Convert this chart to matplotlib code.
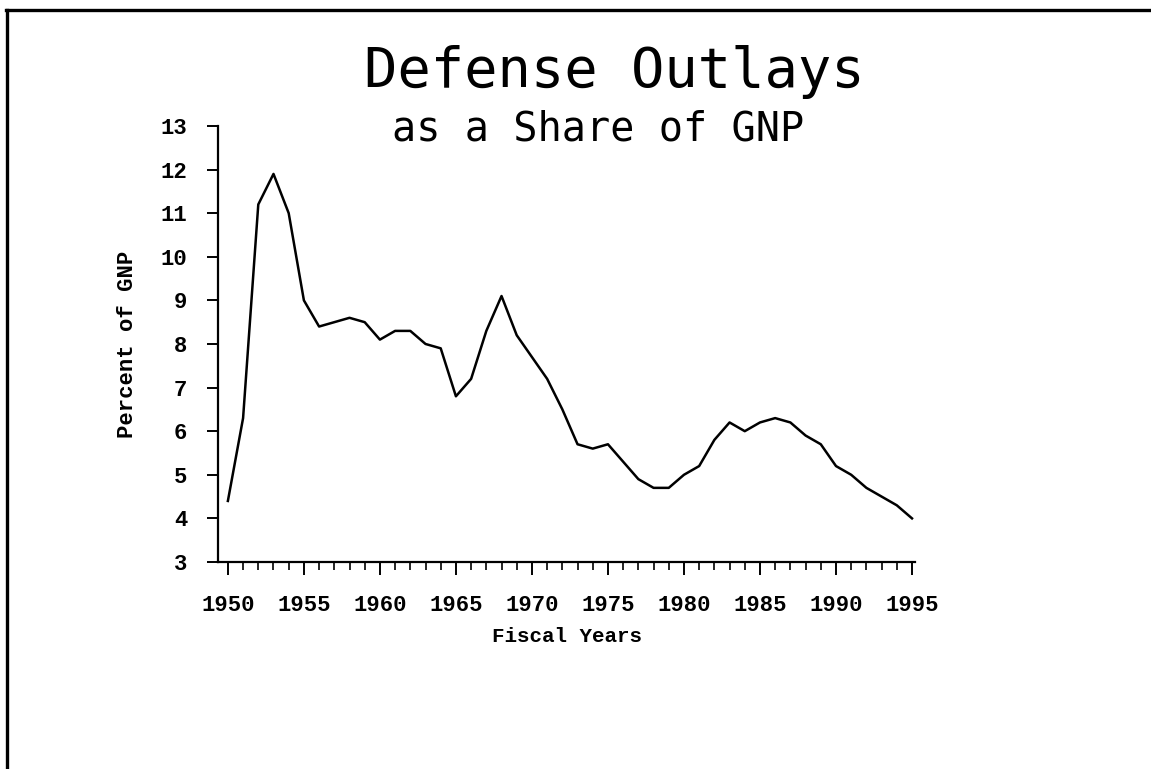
"""
Defense outlays as a share of GNP, fiscal years 1950-1995.
"""

import matplotlib
matplotlib.use("Agg")
import matplotlib.pyplot as plt
from matplotlib.lines import Line2D
from matplotlib.ticker import MultipleLocator

years = list(range(1950, 1996))
pct_gnp = [
    4.4, 6.3, 11.2, 11.9, 11.0, 9.0, 8.4, 8.5, 8.6, 8.5,
    8.1, 8.3, 8.3, 8.0, 7.9, 6.8, 7.2, 8.3, 9.1, 8.2,
    7.7, 7.2, 6.5, 5.7, 5.6, 5.7, 5.3, 4.9, 4.7, 4.7,
    5.0, 5.2, 5.8, 6.2, 6.0, 6.2, 6.3, 6.2, 5.9, 5.7,
    5.2, 5.0, 4.7, 4.5, 4.3, 4.0,
]
year_ticks = list(range(1950, 1996, 5))
pct_ticks = list(range(3, 14))

mono = "DejaVu Sans Mono"
mono_bold = "Liberation Mono"

fig = plt.figure(figsize=(11.51, 7.69), dpi=100)
ax = fig.add_axes([0.1894, 0.2692, 0.6056, 0.567])

ax.plot(years, pct_gnp, color="black", lw=1.8)

ax.set_xlim(1949.35, 1995.2)
ax.set_ylim(3, 13)
ax.set_xticks(year_ticks)
ax.xaxis.set_minor_locator(MultipleLocator(1))
ax.set_yticks(pct_ticks)

for s in ("top", "right"):
    ax.spines[s].set_visible(False)
for s in ("left", "bottom"):
    ax.spines[s].set_linewidth(1.6)

ax.tick_params(axis="x", which="major", length=9, width=1.4, pad=15)
ax.tick_params(axis="x", which="minor", length=6, width=1.2)
ax.tick_params(axis="y", which="major", length=8, width=1.4, pad=14)

for lab in ax.get_xticklabels() + ax.get_yticklabels():
    lab.set_fontfamily(mono_bold)
    lab.set_fontweight("bold")
    lab.set_fontsize(16)

ax.set_xlabel("Fiscal Years", fontfamily=mono_bold, fontweight="bold",
              fontsize=15, labelpad=8)
ax.set_ylabel("Percent of GNP", fontfamily=mono_bold, fontweight="bold",
              fontsize=16, labelpad=16)

fig.text(0.534, 0.907, "Defense Outlays", ha="center", va="center",
         fontfamily=mono, fontsize=40)
fig.text(0.52, 0.832, "as a Share of GNP", ha="center", va="center",
         fontfamily=mono, fontsize=29)

# page frame, top and left edges only
fig.add_artist(Line2D([6 / 1151, 1], [1 - 10 / 769, 1 - 10 / 769],
                      transform=fig.transFigure, color="black", lw=2.4))
fig.add_artist(Line2D([7 / 1151, 7 / 1151], [0, 1 - 10 / 769],
                      transform=fig.transFigure, color="black", lw=2.4))

fig.savefig("out.png", dpi=100)
